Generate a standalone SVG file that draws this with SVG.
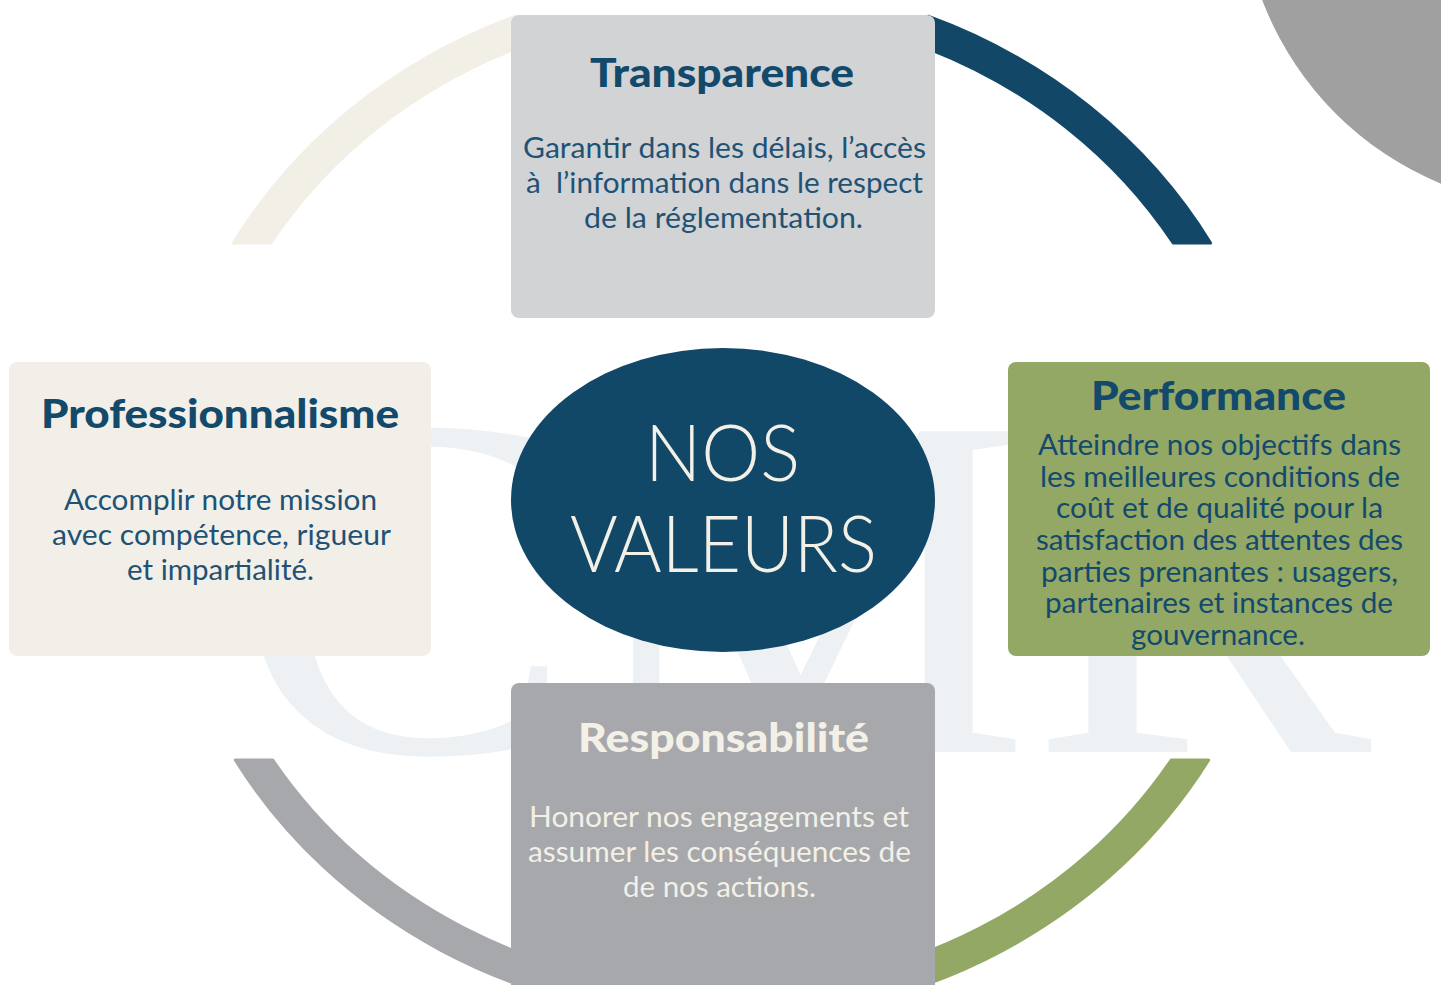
<svg xmlns="http://www.w3.org/2000/svg" width="1441" height="985" viewBox="0 0 1441 985">
  <style>
    .title { font-family: Lato, "Open Sans", "Liberation Sans", sans-serif; font-weight: 900; text-anchor: middle; }
    .body { font-family: Lato, "Open Sans", "Liberation Sans", sans-serif; font-weight: 400; text-anchor: middle; font-size: 28px; }
    .blue { fill: #134a6c; }
    .bodyblue { fill: #1f5275; }
    .cream { fill: #f3f0e8; }
    .arc { stroke-width: 3; stroke-linejoin: round; }
  </style>
  <rect width="1441" height="985" fill="#ffffff"/>
  <g id="watermark">
    <text x="234" y="752" font-family="'Liberation Serif', serif" font-size="490" fill="#edf1f4" textLength="1138" lengthAdjust="spacingAndGlyphs">CMR</text>
  </g>
  <g id="corner-circle">
    <circle cx="1564" cy="-115" r="323" fill="#a0a0a0"/>
  </g>
  <g id="connectors">
    <path class="arc" d="M 233.4,243 A 562 520 0 0 1 516,16.2 L 516,48.5 A 530 490 0 0 0 270.8,243 Z" fill="#f2efe7" stroke="#f2efe7"/>
    <path class="arc" d="M 928,16.2 A 562 520 0 0 1 1210.6,243 L 1173.2,243 A 530 490 0 0 0 928,48.5 Z" fill="#124768" stroke="#124768"/>
    <path class="arc" d="M 1208.7,760 A 562 520 0 0 1 722,1020 L 722,990 A 530 490 0 0 0 1171.2,760 Z" fill="#93a865" stroke="#93a865"/>
    <path class="arc" d="M 722,1020 A 562 520 0 0 1 235.3,760 L 272.8,760 A 530 490 0 0 0 722,990 Z" fill="#a7a8ab" stroke="#a7a8ab"/>
  </g>
  <g id="transparence">
    <rect x="511" y="15" width="424" height="303" rx="8" fill="#d1d3d4"/>
    <text class="title blue" x="722" y="87" font-size="40" textLength="264" lengthAdjust="spacingAndGlyphs">Transparence</text>
    <text class="body bodyblue" x="724.5" y="158" textLength="403" lengthAdjust="spacingAndGlyphs">Garantir dans les délais, l’accès</text>
    <text class="body bodyblue" x="724.5" y="193" textLength="397" lengthAdjust="spacingAndGlyphs">à&#160; l’information dans le respect</text>
    <text class="body bodyblue" x="723.5" y="228" textLength="279" lengthAdjust="spacingAndGlyphs">de la réglementation.</text>
  </g>
  <g id="professionnalisme">
    <rect x="9" y="362" width="422" height="294" rx="8" fill="#f2efe8"/>
    <text class="title blue" x="220" y="428" font-size="40" textLength="358" lengthAdjust="spacingAndGlyphs">Professionnalisme</text>
    <text class="body bodyblue" x="220.5" y="510" textLength="313" lengthAdjust="spacingAndGlyphs">Accomplir notre mission</text>
    <text class="body bodyblue" x="221.5" y="545" textLength="339" lengthAdjust="spacingAndGlyphs">avec compétence, rigueur</text>
    <text class="body bodyblue" x="220.5" y="580" textLength="187" lengthAdjust="spacingAndGlyphs">et impartialité.</text>
  </g>
  <g id="performance">
    <rect x="1008" y="362" width="422" height="294" rx="8" fill="#93a865"/>
    <text class="title blue" x="1218.5" y="410" font-size="40" textLength="255" lengthAdjust="spacingAndGlyphs">Performance</text>
    <text class="body blue" x="1219.5" y="455" font-size="27" textLength="363" lengthAdjust="spacingAndGlyphs">Atteindre nos objectifs dans</text>
    <text class="body blue" x="1220" y="487" font-size="27" textLength="360" lengthAdjust="spacingAndGlyphs">les meilleures conditions de</text>
    <text class="body blue" x="1219.5" y="518" font-size="27" textLength="327" lengthAdjust="spacingAndGlyphs">coût et de qualité pour la</text>
    <text class="body blue" x="1219.5" y="550" font-size="27" textLength="367" lengthAdjust="spacingAndGlyphs">satisfaction des attentes des</text>
    <text class="body blue" x="1219.5" y="582" font-size="27" textLength="357" lengthAdjust="spacingAndGlyphs">parties prenantes : usagers,</text>
    <text class="body blue" x="1219" y="613" font-size="27" textLength="348" lengthAdjust="spacingAndGlyphs">partenaires et instances de</text>
    <text class="body blue" x="1218" y="645" font-size="27" textLength="174" lengthAdjust="spacingAndGlyphs">gouvernance.</text>
  </g>
  <g id="responsabilite">
    <rect x="511" y="683" width="424" height="320" rx="8" fill="#a7a8ab"/>
    <text class="title cream" x="723.5" y="752" font-size="40" textLength="291" lengthAdjust="spacingAndGlyphs">Responsabilité</text>
    <text class="body cream" x="719" y="827" textLength="380" lengthAdjust="spacingAndGlyphs">Honorer nos engagements et</text>
    <text class="body cream" x="719.5" y="862" textLength="383" lengthAdjust="spacingAndGlyphs">assumer les conséquences de</text>
    <text class="body cream" x="719.5" y="897" textLength="193" lengthAdjust="spacingAndGlyphs">de nos actions.</text>
  </g>
  <g id="nos-valeurs">
    <ellipse cx="723" cy="500" rx="212" ry="152" fill="#114767"/>
    <text x="722.5" y="481" font-family="Lato, 'Open Sans', 'Liberation Sans', sans-serif" font-weight="300" font-size="78" text-anchor="middle" fill="#f3f0e8" textLength="155" lengthAdjust="spacingAndGlyphs">NOS</text>
    <text x="723.5" y="572" font-family="Lato, 'Open Sans', 'Liberation Sans', sans-serif" font-weight="300" font-size="78" text-anchor="middle" fill="#f3f0e8" textLength="307" lengthAdjust="spacingAndGlyphs">VALEURS</text>
  </g>
</svg>
